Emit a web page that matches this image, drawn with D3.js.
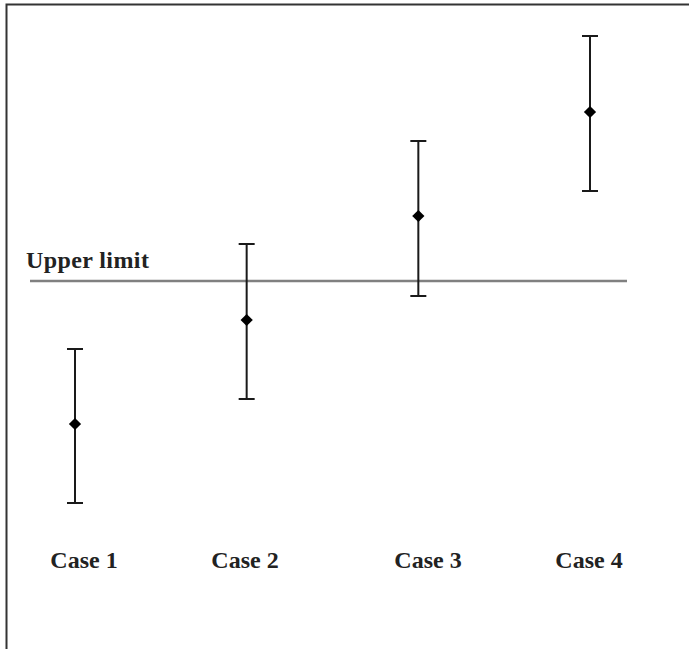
<!DOCTYPE html>
<html>
  <head>
    <meta charset="UTF-8" />
    <script src="https://d3js.org/d3.v7.min.js"></script>
    <title>Cases vs upper limit</title>
    <style>
      body { margin: 0; background: #fff; }
    </style>
  </head>
  <body>
    <div id="chart"></div>
    <script>
      // data
      var cases = ["Case 1", "Case 2", "Case 3", "Case 4"];
      var means = [1.0, 2.0, 3.0, 4.0];
      var lows = [0.24, 1.24, 2.23, 3.24];
      var highs = [1.72, 2.73, 3.72, 4.73];
      var upperLimit = 2.375;
      var limitLabel = "Upper limit";

      var width = 689, height = 649;

      var svg = d3.select("#chart")
        .append("svg")
        .attr("width", width)
        .attr("height", height);

      // frame (only top and left edges are visible)
      svg.append("path")
        .attr("d", "M6.5," + height + "V4.5H" + width)
        .style("fill", "none")
        .style("stroke", "#333")
        .style("stroke-width", 2);

      var x = d3.scalePoint()
        .domain(cases)
        .range([75, 590]);

      var y = d3.scaleLinear()
        .domain([0, 5])
        .range([528, 8]);

      // upper limit line
      svg.append("line")
        .attr("x1", 30)
        .attr("x2", 627)
        .attr("y1", y(upperLimit))
        .attr("y2", y(upperLimit))
        .style("stroke", "#808080")
        .style("stroke-width", 2.5);

      svg.append("text")
        .attr("x", 26)
        .attr("y", y(upperLimit) - 13)
        .style("font-family", "'Liberation Serif', 'Times New Roman', serif")
        .style("font-weight", "bold")
        .style("font-size", "24px")
        .style("letter-spacing", "0.4px")
        .style("fill", "#222")
        .text(limitLabel);

      var rows = cases.map(function(c, i) {
        return { name: c, mean: means[i], lo: lows[i], hi: highs[i] };
      });

      var g = svg.append("g");

      // error bars
      g.selectAll(".bar")
        .data(rows)
        .enter()
        .append("path")
        .attr("d", function(d) {
          var cx = x(d.name), capW = 8;
          return "M" + cx + "," + y(d.hi) + "V" + y(d.lo) +
            "M" + (cx - capW) + "," + y(d.hi) + "H" + (cx + capW) +
            "M" + (cx - capW) + "," + y(d.lo) + "H" + (cx + capW);
        })
        .style("fill", "none")
        .style("stroke", "#1a1a1a")
        .style("stroke-width", 2);

      // diamonds
      g.selectAll(".pt")
        .data(rows)
        .enter()
        .append("path")
        .attr("d", d3.symbol().type(d3.symbolSquare).size(75))
        .attr("transform", function(d) {
          return "translate(" + x(d.name) + "," + y(d.mean) + ")rotate(45)";
        })
        .style("fill", "#000");

      // category labels (not evenly spaced in the original)
      var labelX = d3.scaleOrdinal()
        .domain(cases)
        .range([84, 245, 428, 589]);

      svg.selectAll(".lab")
        .data(cases)
        .enter()
        .append("text")
        .attr("x", function(d) { return labelX(d); })
        .attr("y", 568)
        .attr("text-anchor", "middle")
        .style("font-family", "'Liberation Serif', 'Times New Roman', serif")
        .style("font-weight", "bold")
        .style("font-size", "24px")
        .style("fill", "#222")
        .text(function(d) { return d; });
    </script>
  </body>
</html>
